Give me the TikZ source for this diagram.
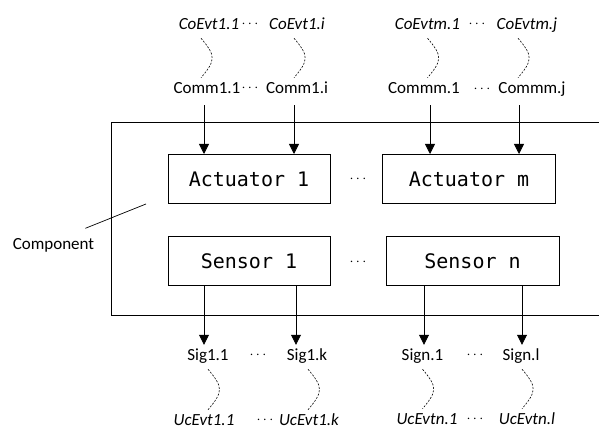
\documentclass[tikz,border=0pt]{standalone}
\usepackage{fontspec}
\setmainfont{Carlito}
\newfontfamily\boxfont{DejaVu Sans Mono}
\usetikzlibrary{arrows.meta}

\begin{document}
\begin{tikzpicture}[x=1pt, y=1pt,
    >={Triangle[length=10pt, width=10pt]},
    box/.style={draw, line width=1pt, minimum height=49pt, inner sep=0pt, font=\boxfont\fontsize{20}{22}\selectfont},
    lbl/.style={inner xsep=0pt, inner ysep=4pt, text height=12pt, text depth=4pt, font=\fontsize{17}{20}\selectfont},
    ev/.style={lbl, font=\fontsize{17}{20}\selectfont\itshape},
    dots/.style={inner sep=0pt, font=\fontsize{14}{16}\selectfont},
    tr/.style={->, line width=0.8pt},
    wv/.style={dash pattern=on 2pt off 1.5pt, line width=0.6pt, out=-50, in=50, looseness=1.5}]
  \useasboundingbox (0,0) rectangle (599,430);

  % component frame, open on the right
  \draw[line width=0.8pt] (600,308) -| (111,115) -- (600,115);
  \node[lbl, anchor=base] (cmpl) at (53.5,180.5) {Component};
  \coordinate (cmpin) at (146,226);
  \draw[line width=0.7pt] ([shift={(-9pt,5pt)}]cmpl.north east) -- (cmpin);

  \node[box, minimum width=162pt] (act1) at (249,251) {Actuator 1};
  \node[box, minimum width=173pt] (actm) at (469,251) {Actuator m};
  \node[box, minimum width=162pt] (sen1) at (249,168.5) {Sensor 1};
  \node[box, minimum width=173pt] (senn) at (472.5,168.5) {Sensor n};
  \node[dots] (dact) at (358,251) {$\cdots$};
  \node[dots] (dsen) at (358,168) {$\cdots$};

  % commands coming in
  \node[ev] (ce11) at (209,404) {CoEvt1.1};
  \node[ev] (ce1i) at (297,404) {CoEvt1.i};
  \node[ev] (cem1) at (427.5,404) {CoEvtm.1};
  \node[ev] (cemj) at (527,404) {CoEvtm.j};
  \node[dots] (dce1) at (250,406) {$\cdots$};
  \node[dots] (dcem) at (477,406) {$\cdots$};
  \node[lbl] (cm11) at (207,340) {Comm1.1};
  \node[lbl] (cm1i) at (297,340) {Comm1.i};
  \node[lbl] (cmm1) at (424,340) {Commm.1};
  \node[lbl] (cmmj) at (532,340) {Commm.j};
  \node[dots] (dcm1) at (250,342) {$\cdots$};
  \node[dots] (dcmm) at (482,341) {$\cdots$};

  \draw[wv] ([xshift=-8pt]ce11.south) to ([xshift=-8pt]ce11.south |- cm11.north);
  \draw[wv] ([xshift=-3pt]ce1i.south) to ([xshift=-3pt]ce1i.south |- cm1i.north);
  \draw[wv] (cem1.south) to (cem1.south |- cmm1.north);
  \draw[wv] ([xshift=-9pt]cemj.south) to ([xshift=-9pt]cemj.south |- cmmj.north);

  \draw[tr, shorten <=3pt] ([xshift=-3pt]cm11.south) -- ([xshift=-3pt]cm11.south |- act1.north);
  \draw[tr, shorten <=3pt] ([xshift=-3pt]cm1i.south) -- ([xshift=-3pt]cm1i.south |- act1.north);
  \draw[tr, shorten <=3pt] ([xshift=6pt]cmm1.south) -- ([xshift=6pt]cmm1.south |- actm.north);
  \draw[tr, shorten <=3pt] ([xshift=-13pt]cmmj.south) -- ([xshift=-13pt]cmmj.south |- actm.north);

  % signals going out
  \node[lbl] (sg11) at (208,73) {Sig1.1};
  \node[lbl] (sg1k) at (307,73) {Sig1.k};
  \node[lbl] (sgn1) at (422.5,73) {Sign.1};
  \node[lbl] (sgnl) at (521,73) {Sign.l};
  \node[dots] (dsg1) at (258,75) {$\cdots$};
  \node[dots] (dsgn) at (475,75) {$\cdots$};
  \node[ev] (uc11) at (204,8) {UcEvt1.1};
  \node[ev] (uc1k) at (309,8) {UcEvt1.k};
  \node[ev] (ucn1) at (427,9) {UcEvtn.1};
  \node[ev] (ucnl) at (527,9) {UcEvtn.l};
  \node[dots] (duc1) at (265,10) {$\cdots$};
  \node[dots] (ducn) at (475,11) {$\cdots$};

  \draw[tr] ([xshift=-4pt]sg11.north |- sen1.south) -- ([xshift=-4pt]sg11.north);
  \draw[tr] ([xshift=-11pt]sg1k.north |- sen1.south) -- ([xshift=-11pt]sg1k.north);
  \draw[tr] ([xshift=1.5pt]sgn1.north |- senn.south) -- ([xshift=1.5pt]sgn1.north);
  \draw[tr] ([xshift=1pt]sgnl.north |- senn.south) -- ([xshift=1pt]sgnl.north);

  \draw[wv] (sg11.south) to (sg11.south |- uc11.north);
  \draw[wv] ([xshift=1pt]sg1k.south) to ([xshift=1pt]sg1k.south |- uc1k.north);
  \draw[wv] (sgn1.south) to (sgn1.south |- ucn1.north);
  \draw[wv] ([xshift=1pt]sgnl.south) to ([xshift=1pt]sgnl.south |- ucnl.north);
\end{tikzpicture}
\end{document}
